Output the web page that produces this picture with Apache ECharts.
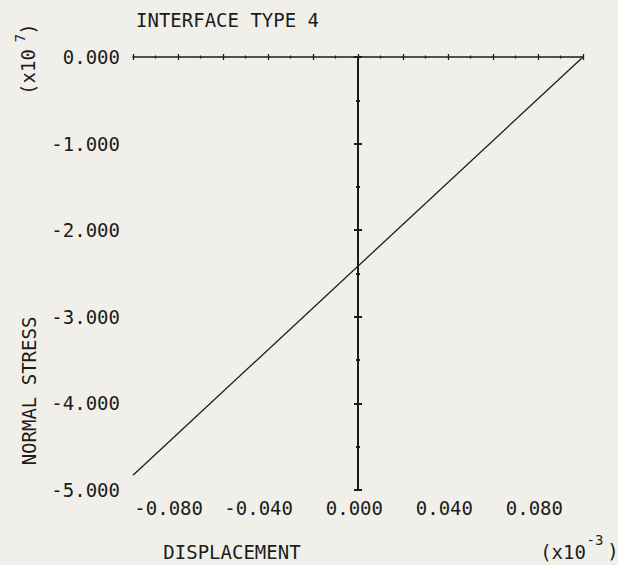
<!DOCTYPE html>
<html><head><meta charset="utf-8">
<script src="https://cdn.jsdelivr.net/npm/echarts@6/dist/echarts.min.js"></script>
<style>html,body{margin:0;padding:0;background:#f0efea}#c{width:618px;height:565px}</style>
</head><body><div id="c"></div>
<script>
// ---- data ----
const titleText = 'INTERFACE TYPE 4';
const xName = 'DISPLACEMENT';
const yName = 'NORMAL STRESS';
const xMin = -0.1, xMax = 0.1, xStep = 0.02;
const yMin = -5, yMax = 0, yStep = 1;
const xLabelValues = [-0.08, -0.04, 0, 0.04, 0.08];
const displacement = [-0.1, 0.1];
const normalStress = [-4.83, 0];

// ---- style ----
const FONT = 'DejaVu Sans Mono';
const FS = 19;
const INK = '#1c1c1c';

function fmtX(v) {
  if (!xLabelValues.some(t => Math.abs(t - v) < 1e-9)) return '';
  return Math.abs(v) < 1e-9 ? '0.000' : v.toFixed(3);
}
function fmtY(v) {
  return Math.abs(v) < 1e-9 ? '0.000' : v.toFixed(3);
}

const chart = echarts.init(document.getElementById('c'), null, {renderer: 'svg'});
const tickLine = {color: INK, width: 1.3};
function topAxis(inside, showLine) {
  return {
    type: 'value', min: xMin, max: xMax, interval: xStep, position: 'top',
    axisLine: {show: showLine, onZero: false, lineStyle: {color: INK, width: 1.5}},
    axisTick: {show: true, inside: inside, length: 3, lineStyle: tickLine},
    minorTick: {show: true, splitNumber: 2, length: 1.5, lineStyle: {color: INK, width: 1.2}},
    axisLabel: {show: false}, splitLine: {show: false}, minorSplitLine: {show: false}
  };
}
function zeroYAxis(inside, showLine) {
  return {
    type: 'value', min: yMin, max: yMax, interval: yStep, position: 'left',
    axisLine: {show: showLine, onZero: true, onZeroAxisIndex: 0, lineStyle: {color: INK, width: 2}},
    axisTick: {show: true, inside: inside, length: 4, lineStyle: {color: INK, width: 2}},
    minorTick: {show: true, splitNumber: 2, length: 2, lineStyle: {color: INK, width: 2}},
    axisLabel: {show: false}, splitLine: {show: false}, minorSplitLine: {show: false}
  };
}
function txt(text, x, y, size, rot, align) {
  return {
    type: 'text', x: x, y: y, rotation: rot || 0, silent: true,
    style: {text: text, fontFamily: FONT, fontSize: size, fill: INK,
            align: align || 'center', verticalAlign: 'middle'}
  };
}
const R = Math.PI / 2;

chart.setOption({
  backgroundColor: '#f0efea',
  animation: false,
  grid: {left: 133, right: 35, top: 57, bottom: 75, containLabel: false},
  xAxis: [
    {
      type: 'value', min: xMin, max: xMax, interval: xStep, position: 'bottom',
      axisLine: {show: false, onZero: false}, axisTick: {show: false}, splitLine: {show: false},
      axisLabel: {formatter: fmtX, fontFamily: FONT, fontSize: FS, color: INK, margin: 8,
                  align: 'right', padding: [0, -25, 0, 0], showMinLabel: true, showMaxLabel: true}
    },
    topAxis(true, true),
    topAxis(false, false)
  ],
  yAxis: [
    {
      type: 'value', min: yMin, max: yMax, interval: yStep, position: 'left',
      axisLine: {show: false, onZero: false}, axisTick: {show: false}, splitLine: {show: false},
      axisLabel: {formatter: fmtY, fontFamily: FONT, fontSize: FS, color: INK, margin: 13}
    },
    zeroYAxis(true, true),
    zeroYAxis(false, false)
  ],
  series: [{
    type: 'line', xAxisIndex: 0, yAxisIndex: 0, showSymbol: false, silent: true,
    lineStyle: {color: INK, width: 1.3},
    data: displacement.map((x, i) => [x, normalStress[i]])
  }],
  graphic: [
    txt(titleText, 136, 20, FS, 0, 'left'),
    txt(xName, 232, 552, FS),
    txt(yName, 29, 391, FS, R),
    txt('(x10', 28, 72, FS, R),
    txt('7', 20, 38, 14, R),
    txt(')', 28, 29, FS, R),
    txt('(x10', 563, 552, FS),
    txt('-3', 595, 540, 14),
    txt(')', 613, 551, FS)
  ]
});
</script>
</body></html>
